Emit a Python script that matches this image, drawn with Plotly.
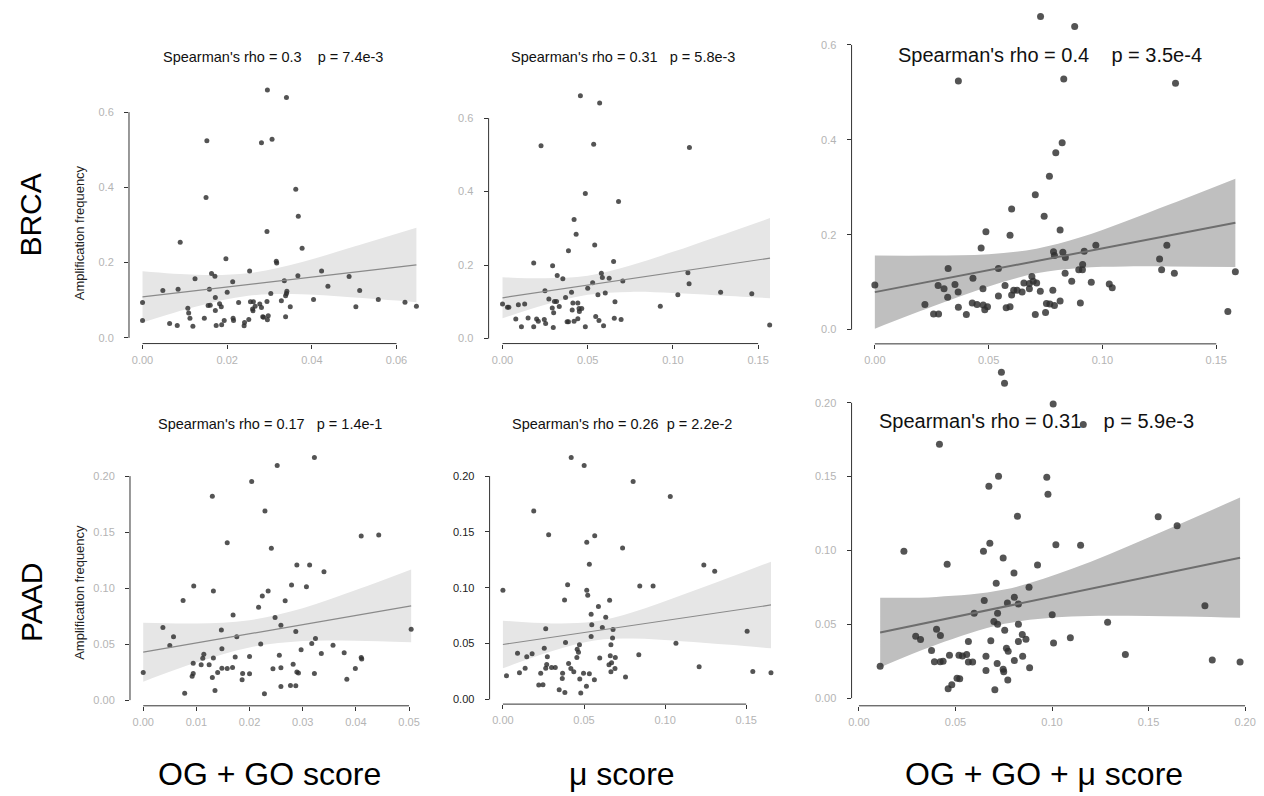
import plotly.graph_objects as go

W, H = 1264, 796

# ---------------- data ----------------
brca_og_x = [.0295,.034,.0306,.0281,.0152,.015,.0362,.0368,.0294,.0377,.0089,.0316,.0317,.0197,.0163,.0253,.0423,.0367,.0488,.0171,.0124,.0213,.0335,.0438,.0158,.0084,.0048,.0513,.0341,.034,.0303,.0200,.0338,.0172,.0328,.0404,.0557,0,.0227,.0255,.0262,.0277,.0294,.062,.016,.0155,.0182,.0186,.0266,.0281,.0349,.0504,.0647,.0107,.026,.0172,.0261,.0109,.0112,.0146,.0214,.0284,.0286,.0297,.0338,0,.0215,.0193,.0251,.0295,.0241,.0064,.0187,.0082,.0119,.0174,.024]
brca_og_y = [.659,.639,.528,.519,.524,.373,.395,.323,.283,.238,.254,.204,.199,.210,.171,.178,.178,.165,.163,.164,.157,.149,.152,.137,.129,.129,.126,.126,.124,.118,.118,.121,.112,.107,.099,.102,.102,.094,.094,.096,.096,.090,.097,.095,.087,.086,.091,.083,.084,.081,.083,.083,.084,.079,.077,.073,.072,.066,.052,.052,.052,.056,.055,.059,.056,.046,.046,.046,.049,.048,.041,.038,.035,.033,.031,.033,.032]

brca_mu_x = [.0457,.0570,.0226,.0535,.1097,.0486,.0681,.0420,.0432,.0387,.0541,.0183,.0652,.0294,.0321,.0580,.0354,.0586,.0626,.0706,.1088,.0529,.1095,.0500,.0249,.0405,.0603,.0560,.1029,.1280,.1463,.0272,.0370,0,.0029,.0037,.0093,.0130,.0305,.0317,.0292,.0333,.0409,.0442,.0413,.0449,.0465,.0451,.0660,.0926,.0300,.0078,.0150,.0200,.0210,.0245,.0253,.0379,.0387,.0420,.0442,.0547,.0566,.0656,.0696,.0111,.0183,.0298,.0486,.0593,.1568]
brca_mu_y = [.661,.641,.525,.529,.520,.395,.373,.324,.284,.239,.255,.206,.210,.198,.172,.178,.163,.166,.164,.157,.179,.152,.149,.137,.130,.126,.124,.119,.119,.126,.122,.108,.112,.094,.085,.085,.092,.094,.101,.101,.083,.087,.078,.097,.097,.082,.082,.074,.100,.088,.070,.053,.056,.053,.047,.052,.041,.046,.046,.047,.054,.060,.049,.055,.052,.032,.032,.030,.032,.035,.037]

brca_all_x = [.0728,.0878,.0367,.0830,.1321,.0823,.0795,.0767,.0705,.0601,.0744,.0488,.0594,.0814,.0467,.0971,.1283,.0785,.0826,.0789,.0920,.0837,.1251,.0913,.0322,.0543,.0896,.0912,.1260,.0431,.0836,.1316,.1584,.0690,0,.0278,.0352,.0696,.0711,.0865,.0951,.1030,.1043,.0655,.0679,.0304,.0475,.0572,.0625,.0610,.0679,.0727,.0782,.0366,.0647,.0601,.0320,.0543,.0220,.0428,.0449,.0476,.0495,.0483,.0577,.0594,.0367,.0754,.0769,.0789,.0814,.0903,.0258,.0280,.0402,.0705,.0750,.1551]
brca_all_y = [.660,.639,.524,.528,.519,.394,.373,.323,.284,.254,.239,.206,.199,.210,.172,.178,.178,.164,.163,.156,.165,.152,.149,.137,.129,.129,.126,.126,.126,.108,.119,.119,.122,.112,.094,.093,.095,.102,.098,.102,.100,.096,.088,.098,.097,.086,.086,.093,.083,.083,.086,.081,.083,.079,.079,.073,.068,.071,.053,.056,.053,.052,.048,.042,.046,.048,.047,.055,.054,.051,.060,.056,.033,.033,.032,.032,.036,.038]

paad_og_x = [.0322,.0252,.0204,.0130,.0229,.0158,.0241,.0410,.0443,.0289,.0313,.0340,.0279,.0307,.0095,.0132,.0235,.0224,.0075,.0267,.0217,.0169,.0248,.0037,.0259,.0504,.0147,.0287,.0057,.0176,.0324,.0050,.0357,.0317,.0221,.0148,.0297,.0114,.0378,.0335,.0200,.0173,.0256,.0132,.0112,.0410,.0411,.0094,.0282,.0109,.0124,.0148,.0158,.0168,.0244,.0259,.0399,.0140,0,.0187,.0200,.0289,.0292,.0322,.0092,.0094,.0130,.0186,.0383,.0259,.0277,.0287,.0135,.0078,.0228]
paad_og_y = [.2166,.2095,.1952,.1819,.1688,.1406,.1355,.1465,.1474,.1207,.1207,.1147,.1028,.1013,.1019,.0975,.0975,.0930,.0889,.0886,.0829,.0761,.0737,.0648,.0669,.0633,.0627,.0612,.0565,.0565,.0550,.0487,.0490,.0505,.0502,.0458,.0449,.0410,.0422,.0416,.0389,.0386,.0401,.0377,.0374,.0380,.0368,.0330,.0321,.0315,.0315,.0285,.0282,.0291,.0279,.0288,.0282,.0247,.0247,.0238,.0235,.0250,.0241,.0238,.0214,.0238,.0202,.0181,.0187,.0122,.0131,.0128,.0086,.0062,.0056]

paad_mu_x = [.0421,.0501,.0803,.1032,.0190,.0282,.0566,.0517,.0738,.0533,.1239,.1306,.0399,.0844,.0926,0,.0517,.0523,.0380,.0658,.0589,.0544,.0634,.0548,.0264,.0613,.0679,.1506,.0544,.0676,.0386,.1067,.0472,.0666,.0090,.0180,.0147,.0255,.0458,.0466,.0456,.0274,.0838,.0662,.0693,.0597,.0405,.0270,.0300,.0323,.0264,.0137,.0419,.0654,.0670,.0691,.1210,.0233,.0102,.0368,.0437,.0497,.0533,.0666,.0756,.1541,.1653,.0022,.0366,.0474,.0564,.0515,.0221,.0247,.0347,.0382,.0480]
paad_mu_y = [.2167,.2095,.1952,.1818,.1687,.1475,.1466,.1407,.1356,.1210,.1204,.1148,.1028,.1016,.1016,.0978,.0978,.0933,.0891,.0888,.0832,.0763,.0736,.0668,.0632,.0644,.0626,.0611,.0563,.0551,.0510,.0504,.0489,.0489,.0414,.0408,.0382,.0459,.0450,.0423,.0376,.0382,.0399,.0390,.0376,.0370,.0322,.0313,.0286,.0286,.0280,.0280,.0277,.0310,.0328,.0277,.0292,.0235,.0238,.0235,.0247,.0235,.0230,.0247,.0200,.0250,.0238,.0212,.0188,.0182,.0176,.0119,.0128,.0131,.0086,.0063,.0057]

paad_all_x = [.0738,.0754,.1006,.1162,.0417,.0723,.0973,.0673,.0979,.0821,.1550,.1648,.0678,.1020,.1148,.0233,.0645,.0747,.0457,.0925,.0803,.0711,.0881,.0649,.0805,.0769,.0826,.0597,.0718,.1001,.1792,.0699,.0718,.0826,.1288,.0402,.0755,.0294,.0319,.0422,.0846,.0865,.1095,.0567,.0683,.0826,.1008,.0376,.0764,.0773,.0469,.0518,.0536,.0558,.0658,.0848,.1380,.0391,.0421,.0436,.0567,.0589,.0716,.0805,.0884,.1830,.1974,.0110,.0747,.0750,.0658,.0771,.0508,.0522,.0481,.0462,.0704]
paad_all_y = [.2207,.2133,.1991,.1853,.1720,.1502,.1495,.1434,.1380,.1231,.1229,.1168,.1048,.1039,.1035,.0994,.0994,.0949,.0906,.0902,.0848,.0778,.0751,.0661,.0683,.0645,.0638,.0575,.0575,.0564,.0625,.0519,.0501,.0501,.0514,.0467,.0460,.0419,.0397,.0424,.0431,.0399,.0408,.0383,.0388,.0383,.0374,.0322,.0338,.0318,.0291,.0291,.0286,.0295,.0284,.0284,.0295,.0246,.0246,.0250,.0244,.0244,.0234,.0255,.0205,.0259,.0244,.0216,.0196,.0178,.0187,.0122,.0135,.0131,.0090,.0063,.0056]

# fitted line end points and confidence band
fit_x = {
    1: [0, .0647], 2: [0, .157], 3: [0, .1584],
    4: [0, .0504], 5: [0, .1653], 6: [.011, .1974]}
fit_y = {
    1: [.109, .194], 2: [.111, .219], 3: [.079, .225],
    4: [.0428, .0841], 5: [.0492, .0846], 6: [.0444, .0951]}
band_x = {
    1: [0, .0125, .025, .0375, .05, .0647],
    2: [0, .025, .05, .075, .1, .125, .157],
    3: [0, .025, .05, .071, .09, .11, .13, .1584],
    4: [0, .01, .02, .03, .04, .0504],
    5: [0, .03, .0563, .08, .11, .14, .1653],
    6: [.011, .04, .0753, .11, .15, .1974]}
band_lo = {
    1: [.041, .083, .112, .116, .107, .095],
    2: [.055, .092, .119, .127, .124, .118, .110],
    3: [.002, .048, .091, .1185, .130, .133, .133, .132],
    4: [.0165, .0335, .047, .0527, .053, .0516],
    5: [.0279, .0431, .0527, .0545, .0522, .0489, .0458],
    6: [.0208, .0361, .0503, .0552, .0556, .0544]}
band_hi = {
    1: [.177, .168, .172, .201, .243, .293],
    2: [.167, .164, .171, .199, .236, .276, .328],
    3: [.156, .156, .159, .1705, .194, .228, .2645, .318],
    4: [.0691, .0685, .0714, .0821, .0982, .1166],
    5: [.0705, .0681, .0697, .0781, .0932, .1093, .1234],
    6: [.068, .0685, .0735, .0874, .1088, .1358]}

titles = {
    1: "Spearman's rho = 0.3    p = 7.4e-3",
    2: "Spearman's rho = 0.31   p = 5.8e-3",
    3: "Spearman's rho = 0.4    p = 3.5e-4",
    4: "Spearman's rho = 0.17   p = 1.4e-1",
    5: "Spearman's rho = 0.26  p = 2.2e-2",
    6: "Spearman's rho = 0.31    p = 5.9e-3"}

x_ticks = {
    1: [0, .02, .04, .06], 2: [0, .05, .10, .15], 3: [0, .05, .10, .15],
    4: [0, .01, .02, .03, .04, .05], 5: [0, .05, .10, .15], 6: [0, .05, .10, .15, .20]}
x_labels = {
    1: ["0.00", "0.02", "0.04", "0.06"], 2: ["0.00", "0.05", "0.10", "0.15"],
    3: ["0.00", "0.05", "0.10", "0.15"],
    4: ["0.00", "0.01", "0.02", "0.03", "0.04", "0.05"],
    5: ["0.00", "0.05", "0.10", "0.15"], 6: ["0.00", "0.05", "0.10", "0.15", "0.20"]}
y_ticks_brca = [0, .2, .4, .6]
y_labels_brca = ["0.0", "0.2", "0.4", "0.6"]
y_ticks_paad = [0, .05, .10, .15, .20]
y_labels_paad = ["0.00", "0.05", "0.10", "0.15", "0.20"]

row_labels = ["BRCA", "PAAD"]
col_labels = ["OG + GO score", "\u03bc score", "OG + GO + \u03bc score"]
y_title = "Amplification frequency"

points = {1: (brca_og_x, brca_og_y), 2: (brca_mu_x, brca_mu_y), 3: (brca_all_x, brca_all_y),
          4: (paad_og_x, paad_og_y), 5: (paad_mu_x, paad_mu_y), 6: (paad_all_x, paad_all_y)}

# ---------------- layout geometry (pixels) ----------------
# left, right, bottom, top, (x calib px0, v0, px1, v1), (y calib px0, v0, px1, v1)
geom = {
    1: (126.7, 420, 344.0, 84, (140.3, 0, 395.7, .06), (338.3, 0, 112.3, .6)),
    2: (488.3, 776, 344.0, 84, (502.3, 0, 759.3, .15), (339.0, 0, 118.3, .6)),
    3: (853.3, 1246, 344.3, 8, (876.7, 0, 1220.0, .15), (330.0, 0, 45.0, .6)),
    4: (127.7, 420, 706.7, 450, (141.0, 0, 408.3, .05), (701.0, 0, 476.7, .2)),
    5: (489.3, 778, 705.0, 450, (502.7, 0, 747.3, .15), (700.3, 0, 476.7, .2)),
    6: (853.3, 1256, 706.7, 366, (860.7, 0, 1249.0, .2), (699.0, 0, 403.3, .2)),
}


def px2val(cal, p):
    p0, v0, p1, v1 = cal
    return v0 + (p - p0) * (v1 - v0) / (p1 - p0)


fig = go.Figure()
layout = dict(width=W, height=H, margin=dict(l=0, r=0, t=0, b=0),
              paper_bgcolor="white", plot_bgcolor="white", showlegend=False,
              font=dict(family="Liberation Sans, Arial, sans-serif"))
shapes = []
annotations = []

for n in range(1, 7):
    left, right, bottom, top, xc, yc = geom[n]
    big = n in (3, 6)
    xa = "x" if n == 1 else f"x{n}"
    ya = "y" if n == 1 else f"y{n}"
    band_fill = "#bfbfbf" if big else "#e6e6e6"
    line_col = "#6e6e6e" if big else "#8a8a8a"
    # band
    fig.add_trace(go.Scatter(x=band_x[n], y=band_lo[n], mode="lines", line=dict(width=0, shape="spline"),
                             xaxis=xa, yaxis=ya, hoverinfo="skip"))
    fig.add_trace(go.Scatter(x=band_x[n], y=band_hi[n], mode="lines", line=dict(width=0, shape="spline"),
                             fill="tonexty", fillcolor=band_fill, xaxis=xa, yaxis=ya, hoverinfo="skip"))
    # points
    px_, py_ = points[n]
    fig.add_trace(go.Scatter(x=px_, y=py_, mode="markers", cliponaxis=False,
                             marker=dict(color="#2e2e2e", size=7 if big else 5, opacity=0.82,
                                         line=dict(width=0)),
                             xaxis=xa, yaxis=ya))
    # fit line
    fig.add_trace(go.Scatter(x=fit_x[n], y=fit_y[n], mode="lines",
                             line=dict(color=line_col, width=2 if big else 1.2),
                             xaxis=xa, yaxis=ya, hoverinfo="skip"))

    brca = n <= 3
    yt = y_ticks_brca if brca else y_ticks_paad
    yl = y_labels_brca if brca else y_labels_paad
    tickfont = dict(size=11, color="#b4b4b4", family="Liberation Sans, Arial, sans-serif")
    ytickfont = dict(tickfont)
    if n == 5:
        ytickfont = dict(size=11, color="#222222", family="Liberation Sans, Arial, sans-serif")
    key_x = "xaxis" if n == 1 else f"xaxis{n}"
    key_y = "yaxis" if n == 1 else f"yaxis{n}"
    layout[key_x] = dict(domain=[left / W, right / W],
                         range=[px2val(xc, left), px2val(xc, right)],
                         anchor=ya, showgrid=False, zeroline=False, showline=False,
                         ticks="outside", ticklen=4, tickcolor="#333", tickwidth=1,
                         tickvals=x_ticks[n], ticktext=x_labels[n], tickfont=tickfont,
                         ticklabelstandoff=2, fixedrange=True)
    layout[key_y] = dict(domain=[1 - bottom / H, 1 - top / H],
                         range=[px2val(yc, bottom), px2val(yc, top)],
                         anchor=xa, showgrid=False, zeroline=False, showline=False,
                         ticks="outside", ticklen=4, tickcolor="#333", tickwidth=1,
                         tickvals=yt, ticktext=yl, tickfont=ytickfont,
                         ticklabelstandoff=8, fixedrange=True)
    # capped axis lines
    shapes.append(dict(type="line", xref=f"{xa} domain", yref=ya, x0=0, x1=0,
                       y0=yt[0], y1=yt[-1], line=dict(color="#333", width=1)))
    shapes.append(dict(type="line", xref=xa, yref=f"{ya} domain", x0=x_ticks[n][0], x1=x_ticks[n][-1],
                       y0=0, y1=0, line=dict(color="#333", width=1)))

# panel titles
title_pos = {1: (272, 57, 14.5), 2: (623, 57, 14.5), 3: (1053, 55, 20),
             4: (268, 425, 14.5), 5: (622, 425, 14.5), 6: (1039, 422, 20)}
for n, (cx, cy, fs) in title_pos.items():
    annotations.append(dict(text=titles[n].replace(" ", "\u00a0"), x=cx / W, y=1 - cy / H,
                            xref="paper", yref="paper", showarrow=False,
                            xanchor="center", yanchor="middle",
                            font=dict(size=fs, color="#111")))

# y-axis titles
for cy in (233, 593):
    annotations.append(dict(text=y_title, x=77 / W, y=1 - cy / H, xref="paper", yref="paper",
                            textangle=-90, showarrow=False, xanchor="center", yanchor="middle",
                            font=dict(size=13, color="#222")))

# row labels
for lab, cy in zip(row_labels, (215, 603)):
    annotations.append(dict(text=lab, x=28 / W, y=1 - cy / H, xref="paper", yref="paper",
                            textangle=-90, showarrow=False, xanchor="center", yanchor="middle",
                            font=dict(size=30, color="#000")))

# column labels
for lab, cx in zip(col_labels, (268, 622, 1047)):
    annotations.append(dict(text=lab, x=cx / W, y=1 - 775 / H, xref="paper", yref="paper",
                            showarrow=False, xanchor="center", yanchor="middle",
                            font=dict(size=32, color="#000",
                                      family="Liberation Sans Narrow, Liberation Sans, Arial, sans-serif")))

layout["shapes"] = shapes
layout["annotations"] = annotations
fig.update_layout(**layout)
fig.write_html("out.html")
